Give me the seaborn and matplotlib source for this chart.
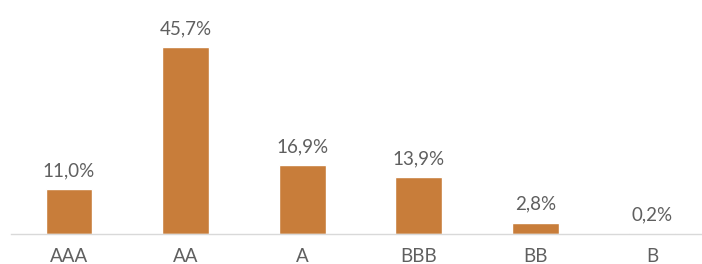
import pandas as pd
import matplotlib.pyplot as plt
import seaborn as sns

ratings = ['AAA', 'AA', 'A', 'BBB', 'BB', 'B']
shares = [11.0, 45.7, 16.9, 13.9, 2.8, 0.2]
labels = ['11,0%', '45,7%', '16,9%', '13,9%', '2,8%', '0,2%']

df = pd.DataFrame({'rating': ratings, 'share': shares})

sns.set_style('white')
plt.rcParams['font.family'] = ['Lato', 'DejaVu Sans']

fig = plt.figure(figsize=(7.02, 2.64), dpi=100)
ax = fig.add_axes([10.7 / 702, 30 / 264, 699.6 / 702, 204.5 / 264])

sns.barplot(data=df, x='rating', y='share', color='#C87D3A', width=0.4,
            saturation=1, ax=ax)

for i, (v, lab) in enumerate(zip(shares, labels)):
    ax.annotate(lab, (i, v), xytext=(0, 7), textcoords='offset points',
                ha='center', va='bottom', fontsize=13.5, color='#5f5f5f')

ax.set_xlim(-0.5, 5.5)
ax.set_ylim(0, 50)
ax.set_xlabel('')
ax.set_ylabel('')
ax.set_yticks([])
ax.tick_params(axis='x', length=0, labelsize=13.5, labelcolor='#5f5f5f', pad=10)
for s in ['top', 'right', 'left']:
    ax.spines[s].set_visible(False)
ax.spines['bottom'].set_color('#D9D9D9')
ax.spines['bottom'].set_linewidth(1)

fig.savefig('out.png', dpi=100)
